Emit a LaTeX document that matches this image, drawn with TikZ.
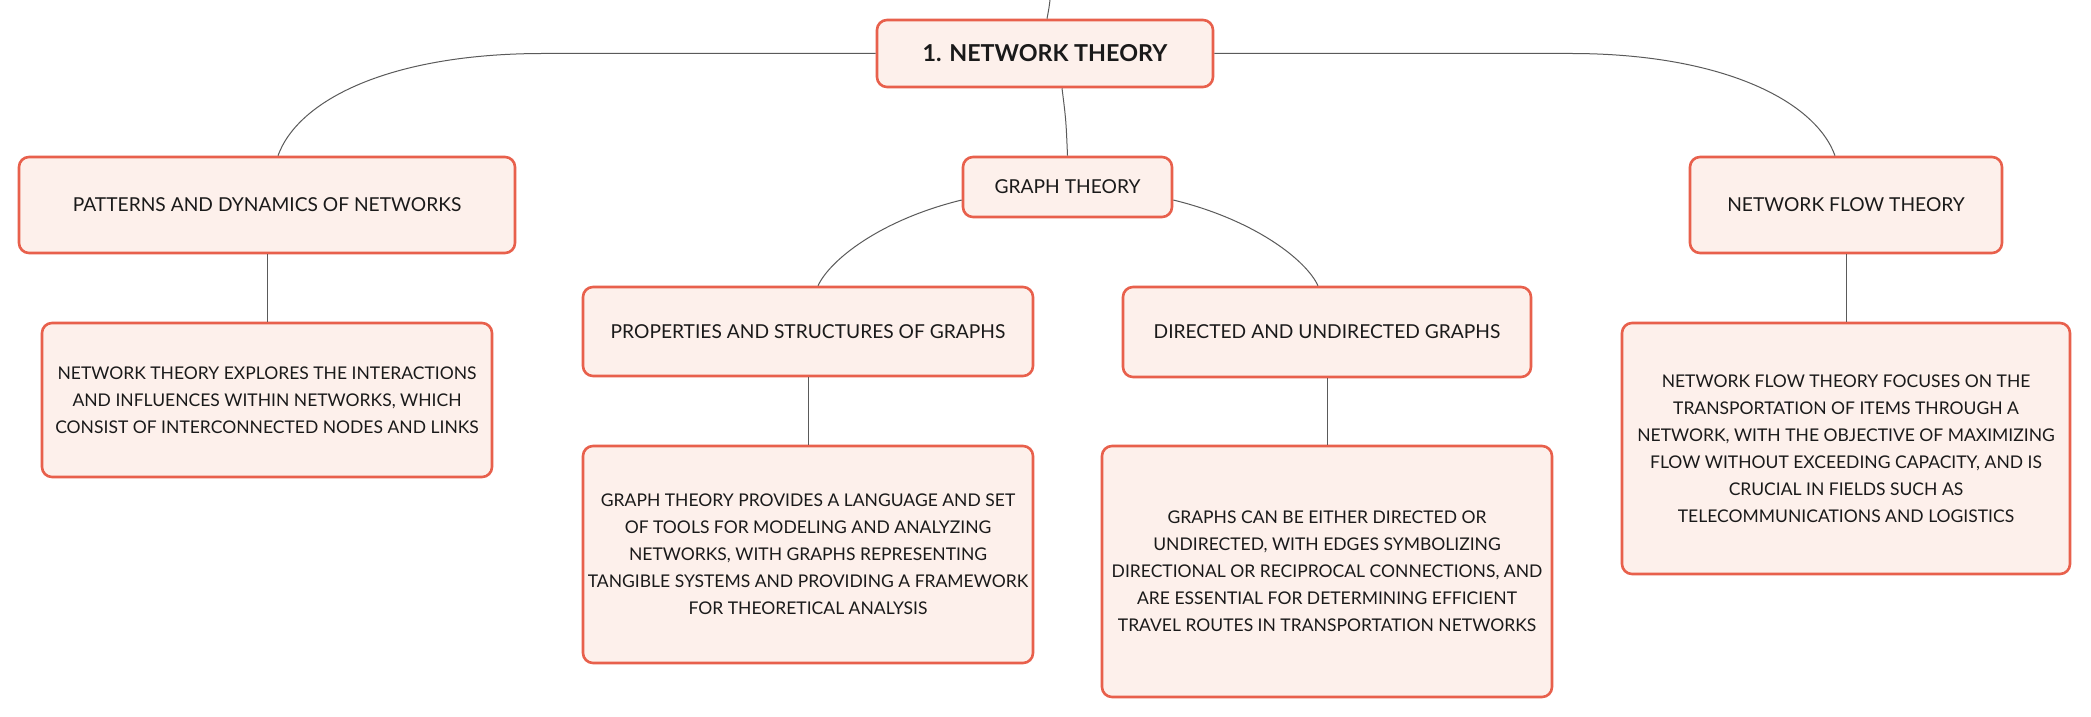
\documentclass[tikz,border=0pt]{standalone}
\usepackage{fontspec}
\setmainfont{Lato}
\usetikzlibrary{calc}
\definecolor{boxline}{HTML}{E8604C}
\definecolor{boxfill}{HTML}{FDF0EB}
\definecolor{conn}{HTML}{5A5A5A}
\definecolor{txt}{HTML}{1A1A1A}
\tikzset{
  mbox/.style={draw=boxline, fill=boxfill, line width=2.6pt, rounded corners=10pt,
    align=center, text=txt, inner sep=0pt},
  headbox/.style={mbox, font=\fontsize{19.2}{27}\selectfont},
  leafbox/.style={mbox, font=\fontsize{17.5}{27}\selectfont},
  rootbox/.style={mbox, font=\bfseries\fontsize{23.3}{27}\selectfont},
  link/.style={draw=conn, line width=1pt}
}
\begin{document}
\begin{tikzpicture}[x=1pt,y=-1pt]
\useasboundingbox[fill=white] (0,0) rectangle (2091,717);

\node[rootbox, minimum width=336pt, minimum height=67pt] (root) at (1045,53.5) {1. NETWORK THEORY};
\node[headbox, minimum width=209pt, minimum height=60pt] (graph) at (1067.5,187) {GRAPH THEORY};
\node[headbox, minimum width=496pt, minimum height=96pt] (pat) at (267,205) {PATTERNS AND DYNAMICS OF NETWORKS};
\node[headbox, minimum width=450pt, minimum height=89pt] (prop) at (808,331.5) {PROPERTIES AND STRUCTURES OF GRAPHS};
\node[headbox, minimum width=408pt, minimum height=90pt] (dir) at (1327,332) {DIRECTED AND UNDIRECTED GRAPHS};
\node[headbox, minimum width=312pt, minimum height=96pt] (flow) at (1846,205) {NETWORK FLOW THEORY};

\node[leafbox, minimum width=450pt, minimum height=154pt] (patc) at (267,400) {NETWORK THEORY EXPLORES THE INTERACTIONS\\AND INFLUENCES WITHIN NETWORKS, WHICH\\CONSIST OF INTERCONNECTED NODES AND LINKS};
\node[leafbox, minimum width=450pt, minimum height=217pt] (propc) at (808,554.5) {GRAPH THEORY PROVIDES A LANGUAGE AND SET\\OF TOOLS FOR MODELING AND ANALYZING\\NETWORKS, WITH GRAPHS REPRESENTING\\TANGIBLE SYSTEMS AND PROVIDING A FRAMEWORK\\FOR THEORETICAL ANALYSIS};
\node[leafbox, minimum width=450pt, minimum height=251pt] (dirc) at (1327,571.5) {GRAPHS CAN BE EITHER DIRECTED OR\\UNDIRECTED, WITH EDGES SYMBOLIZING\\DIRECTIONAL OR RECIPROCAL CONNECTIONS, AND\\ARE ESSENTIAL FOR DETERMINING EFFICIENT\\TRAVEL ROUTES IN TRANSPORTATION NETWORKS};
\node[leafbox, minimum width=448pt, minimum height=251pt] (flowc) at (1846,448.5) {NETWORK FLOW THEORY FOCUSES ON THE\\TRANSPORTATION OF ITEMS THROUGH A\\NETWORK, WITH THE OBJECTIVE OF MAXIMIZING\\FLOW WITHOUT EXCEEDING CAPACITY, AND IS\\CRUCIAL IN FIELDS SUCH AS\\TELECOMMUNICATIONS AND LOGISTICS};

\coordinate (top) at (1050,0);

\draw[link] (top) .. controls (1049,8) .. ($(root.north)+(2,0)$);
\draw[link] (root.west) -- ++(-330,0) .. controls (390,53) and (298,100) .. ($(pat.north)+(11,0)$);
\draw[link] (root.east) -- ++(354,0) .. controls (1720,53) and (1815,100) .. ($(flow.north)+(-11,0)$);
\draw[link] ($(root.south)+(17,0)$) .. controls (1066,120) .. (graph.north);
\draw[link] ($(graph.west)+(0,13)$) .. controls (880,220) and (830,260) .. ($(prop.north)+(10,0)$);
\draw[link] ($(graph.east)+(0,13)$) .. controls (1255,220) and (1306,260) .. ($(dir.north)+(-9,0)$);
\draw[link] (pat.south) -- (patc.north);
\draw[link] (prop.south) -- (propc.north);
\draw[link] (dir.south) -- (dirc.north);
\draw[link] (flow.south) -- (flowc.north);
\end{tikzpicture}
\end{document}
